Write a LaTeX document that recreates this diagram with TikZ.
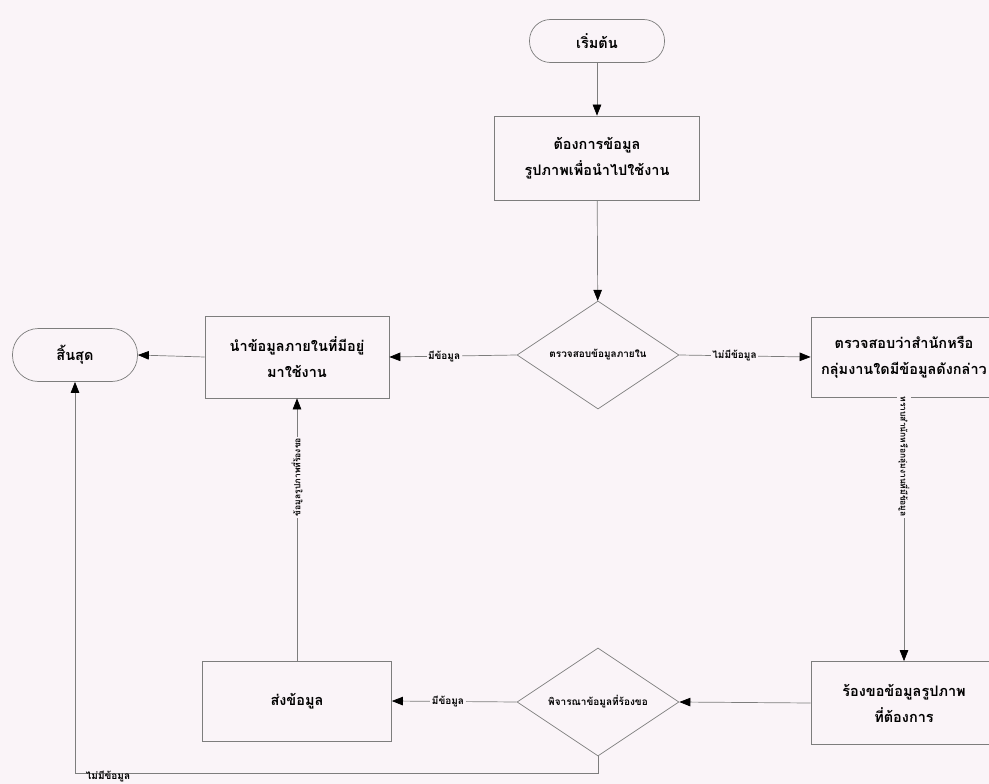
\documentclass[tikz,border=0pt]{standalone}
\usepackage{fontspec}
\newfontfamily\thaifont[Script=Thai]{Loma}
\usetikzlibrary{shapes.geometric,arrows.meta}
\definecolor{paper}{RGB}{250,244,248}
\definecolor{edge}{RGB}{125,125,125}
\begin{document}
\begin{tikzpicture}[x=1pt,y=-1pt,
  font=\thaifont,
  boxtext/.style={font=\thaifont\bfseries\fontsize{14.5}{26}\selectfont, align=center},
  procbox/.style={draw=edge, line width=0.7pt, rectangle, inner sep=0pt, boxtext},
  termbox/.style={draw=edge, line width=0.7pt, rectangle, rounded corners=21pt, inner sep=0pt, boxtext},
  decide/.style={draw=edge, line width=0.7pt, diamond, aspect=1.5, inner sep=0pt,
    minimum width=162pt, minimum height=108pt,
    font=\thaifont\bfseries\fontsize{10}{12}\selectfont},
  flow/.style={draw=edge, line width=0.7pt, -{Triangle[length=11pt,width=8.5pt,color=black]}},
  lbl/.style={font=\thaifont\bfseries\fontsize{10}{12}\selectfont, fill=paper, inner sep=1.5pt},
  sidelbl/.style={font=\thaifont\bfseries\fontsize{8.5}{10}\selectfont, fill=paper, inner sep=1.5pt}]

\path[use as bounding box, fill=paper] (0,0) rectangle (989,784);
\clip (0,0) rectangle (989,784);

% nodes
\node[termbox, minimum width=135pt, minimum height=43pt] (start) at (597,41) {เริ่มต้น};
\node[procbox, minimum width=205pt, minimum height=84pt] (need) at (597,158) {ต้องการข้อมูล\\รูปภาพเพื่อนำไปใช้งาน};
\node[decide] (chk) at (598,355) {ตรวจสอบข้อมูลภายใน};
\node[procbox, minimum width=184pt, minimum height=82pt] (inner) at (297,357) {นำข้อมูลภายในที่มีอยู่\\มาใช้งาน};
\node[termbox, minimum width=125pt, minimum height=53pt, rounded corners=26pt] (finish) at (75,355) {สิ้นสุด};
\node[procbox, minimum width=186pt, minimum height=80pt] (ask) at (904,357) {ตรวจสอบว่าสำนักหรือ\\กลุ่มงานใดมีข้อมูลดังกล่าว};
\node[procbox, minimum width=186pt, minimum height=83pt] (req) at (904,703) {ร้องขอข้อมูลรูปภาพ\\ที่ต้องการ};
\node[decide] (judge) at (598,702) {พิจารณาข้อมูลที่ร้องขอ};
\node[procbox, minimum width=189pt, minimum height=80pt] (send) at (297,701) {ส่งข้อมูล};

% connectors
\draw[flow] (start) -- (need);
\draw[flow] (need) -- (chk);
\draw[flow] (chk.east) -- node[lbl, pos=0.42] {ไม่มีข้อมูล} (ask.west);
\draw[flow] (chk.west) -- node[lbl, pos=0.57] {มีข้อมูล} (inner.east);
\draw[flow] (inner.west) -- (finish.east);
\draw[flow] (ask.south) -- node[sidelbl, pos=0.225, rotate=-90] {ทราบสำนักหรือกลุ่มงานที่มีข้อมูล} (req.north);
\draw[flow] (req.west) -- (judge.east);
\draw[flow] (judge.west) -- node[lbl, pos=0.55] {มีข้อมูล} (send.east);
\draw[flow] (send.north) -- node[sidelbl, pos=0.70, rotate=90] {ข้อมูลรูปภาพที่ร้องขอ} (inner.south);
\draw[flow] (judge.south) -- ++(0,17) coordinate (jb) -| (finish.south);
\node[lbl, fill=none, anchor=north, inner sep=0.5pt] (nodata) at (108,770) {ไม่มีข้อมูล};
\end{tikzpicture}
\end{document}
